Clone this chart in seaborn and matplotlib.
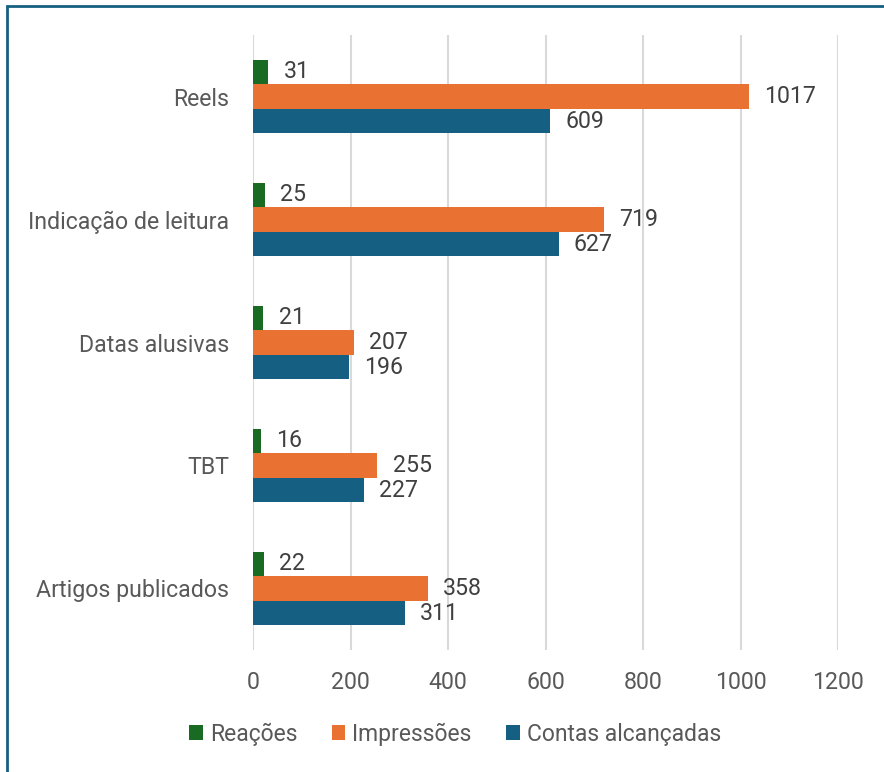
import matplotlib
matplotlib.use("Agg")
import matplotlib.pyplot as plt
import pandas as pd
import seaborn as sns
from matplotlib.patches import Rectangle

categorias = ["Reels", "Indicação de leitura", "Datas alusivas", "TBT", "Artigos publicados"]
reacoes = [31, 25, 21, 16, 22]
impressoes = [1017, 719, 207, 255, 358]
contas = [609, 627, 196, 227, 311]
series = ["Reações", "Impressões", "Contas alcançadas"]
cores = ["#196B24", "#E97132", "#156082"]
x_ticks = [0, 200, 400, 600, 800, 1000, 1200]

df = pd.DataFrame({
    "categoria": categorias * 3,
    "serie": [series[0]] * 5 + [series[1]] * 5 + [series[2]] * 5,
    "valor": reacoes + impressoes + contas,
})

sns.set_theme(style="white")
plt.rcParams["font.family"] = ["Roboto", "DejaVu Sans"]
texto = "#595959"
fs = 16.7

fig = plt.figure(figsize=(8.84, 7.72), dpi=100)
ax = fig.add_axes([253 / 884, 1 - 650 / 772, (838 - 253) / 884, (650 - 35) / 772])

sns.barplot(
    data=df, y="categoria", x="valor", hue="serie",
    order=categorias, hue_order=series, palette=cores, saturation=1,
    width=0.6, orient="h", linewidth=0, legend=True, ax=ax,
)

for cont in ax.containers:
    ax.bar_label(cont, padding=11, fontsize=fs, color="#404040")

ax.set_xlim(0, 1200)
ax.set_xticks(x_ticks)
ax.set_xlabel("")
ax.set_ylabel("")
ax.grid(axis="x", color="#d9d9d9", linewidth=1.5)
ax.set_axisbelow(True)
for s in ax.spines.values():
    s.set_visible(False)
ax.tick_params(axis="x", length=0, pad=15, labelsize=fs, labelcolor=texto)
ax.tick_params(axis="y", length=0, pad=17, labelsize=fs, labelcolor=texto)

handles, labels = ax.get_legend_handles_labels()
ax.get_legend().remove()
fig.legend(
    handles, labels, loc="center", bbox_to_anchor=(455 / 884, 1 - 734 / 772),
    ncol=3, frameon=False, fontsize=16.5, labelcolor=texto,
    handlelength=0.6, handleheight=0.6, handletextpad=0.3, columnspacing=1.5,
)

fig.add_artist(Rectangle(
    (7.5 / 884, -0.2), 1.5, 1.2 - 5.5 / 772, transform=fig.transFigure,
    fill=False, edgecolor="#156082", linewidth=2,
))

fig.savefig("out.png", dpi=100)
